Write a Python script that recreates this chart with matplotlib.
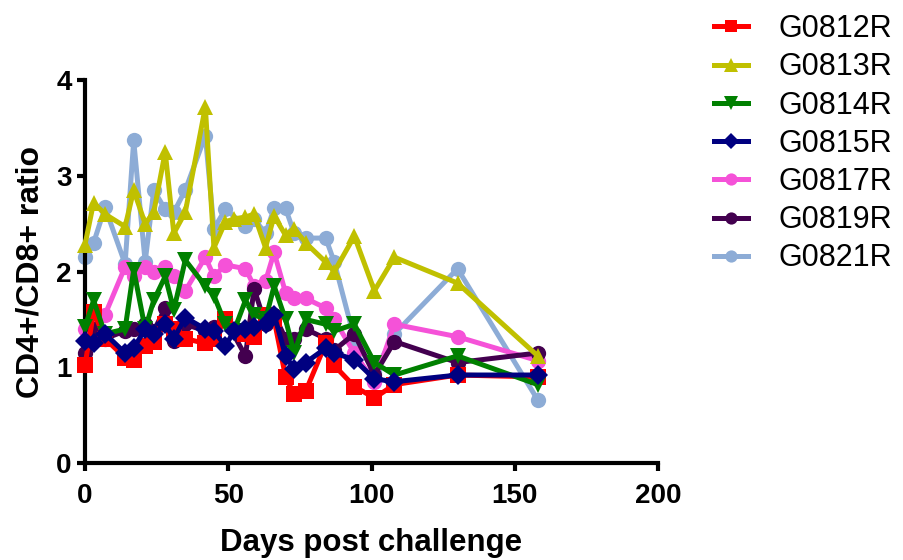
import numpy as np
import matplotlib
matplotlib.use("Agg")
import matplotlib.pyplot as plt

plt.rcParams['font.family'] = ['Liberation Sans', 'DejaVu Sans']

days_a = [0, 3, 7, 14, 17, 21, 24, 28, 31, 35, 42, 45, 49, 52, 56, 59, 63, 66, 70, 73, 77, 84, 87, 94, 101, 108, 130, 158]
days_b = [0, 3, 7, 14, 17, 21, 24, 28, 31, 35, 42, 45, 49, 56, 59, 63, 66, 70, 73, 77, 84, 87, 94, 101, 108, 130, 158]

g0812 = [1.02, 1.58, 1.30, 1.10, 1.08, 1.22, 1.27, 1.45, 1.40, 1.30, 1.25, 1.30, 1.50, 1.35, 1.32, 1.55, 1.50,
         0.90, 0.72, 0.75, 1.25, 1.02, 0.80, 0.68, 0.82, 0.92, 0.90]
g0813 = [2.28, 2.72, 2.60, 2.47, 2.85, 2.50, 2.62, 3.25, 2.40, 2.62, 3.72, 2.25, 2.52, 2.55, 2.57, 2.60, 2.25,
         2.58, 2.38, 2.45, 2.30, 2.10, 2.00, 2.37, 1.80, 2.15, 1.88, 1.12]
g0814 = [1.42, 1.70, 1.35, 1.40, 2.02, 1.40, 1.70, 1.95, 1.60, 2.12, 1.85, 1.75, 1.45, 1.38, 1.70, 1.55, 1.50,
         1.85, 1.50, 1.15, 1.50, 1.45, 1.38, 1.45, 1.05, 0.92, 1.12, 0.82]
g0815 = [1.28, 1.25, 1.35, 1.15, 1.20, 1.40, 1.35, 1.45, 1.30, 1.52, 1.40, 1.38, 1.22, 1.38, 1.40, 1.42, 1.45,
         1.55, 1.12, 0.98, 1.05, 1.20, 1.15, 1.08, 0.88, 0.85, 0.92, 0.92]
g0817 = [1.40, 1.55, 1.55, 2.05, 1.95, 2.05, 2.00, 2.05, 1.95, 1.80, 2.15, 1.95, 2.07, 2.03, 1.85, 1.90, 2.20,
         1.78, 1.72, 1.72, 1.62, 1.50, 1.15, 0.85, 1.45, 1.32, 1.07]
g0819 = [1.15, 1.40, 1.30, 1.38, 1.40, 1.45, 1.38, 1.62, 1.28, 1.45, 1.38, 1.42, 1.50, 1.12, 1.82, 1.45, 1.55,
         1.30, 1.30, 1.40, 1.30, 1.18, 1.35, 0.92, 1.27, 1.05, 1.15]
g0821 = [2.15, 2.30, 2.67, 2.08, 3.37, 2.10, 2.85, 2.65, 2.62, 2.85, 3.42, 2.45, 2.65, 2.48, 2.55, 2.40, 2.66,
         2.66, 2.40, 2.35, 2.35, 2.10, 1.30, 0.95, 1.35, 2.03, 0.66]

series = [
    ('G0812R', days_b, g0812, '#FF0000', 's', 5),
    ('G0813R', days_a, g0813, '#C0C000', '^', 7),
    ('G0814R', days_a, g0814, '#008000', 'v', 5),
    ('G0815R', days_a, g0815, '#000080', 'D', 6),
    ('G0817R', days_b, g0817, '#F552D8', 'o', 2),
    ('G0819R', days_b, g0819, '#43004F', 'o', 3),
    ('G0821R', days_b, g0821, '#8DACD6', 'o', 1),
]
sizes = {'o': 11, 's': 11, '^': 12, 'v': 12, 'D': 10}

fig = plt.figure(figsize=(9.04, 5.6), dpi=100)
ax = fig.add_axes([0.094, 0.173, 0.634, 0.684])

handles = []
for name, x, y, col, mk, z in series:
    h, = ax.plot(x, y, color=col, marker=mk, markersize=sizes[mk], linewidth=3.6,
                 markeredgewidth=0, label=name, zorder=z, clip_on=False)
    handles.append(h)

ax.set_xlim(0, 200)
ax.set_ylim(0, 4)
ax.set_xticks([0, 50, 100, 150, 200])
ax.set_yticks([0, 1, 2, 3, 4])
for s in ['top', 'right']:
    ax.spines[s].set_visible(False)
for s in ['left', 'bottom']:
    ax.spines[s].set_linewidth(3)
ax.tick_params(width=3, length=6, labelsize=20)
ax.tick_params(axis='x', pad=8)
for lab in ax.get_xticklabels() + ax.get_yticklabels():
    lab.set_fontweight('bold')
ax.set_xlabel('Days post challenge', fontsize=22.5, fontweight='bold', labelpad=14)
ax.set_ylabel('CD4+/CD8+ ratio', fontsize=23, fontweight='bold', labelpad=8)

fig.legend(handles=handles, loc='upper left', bbox_to_anchor=(0.79, 0.975),
           frameon=False, fontsize=22, handlelength=1.1, labelspacing=0.27,
           handletextpad=1.0, markerscale=0.8, borderpad=0, borderaxespad=0)

fig.savefig('out.png', dpi=100)
